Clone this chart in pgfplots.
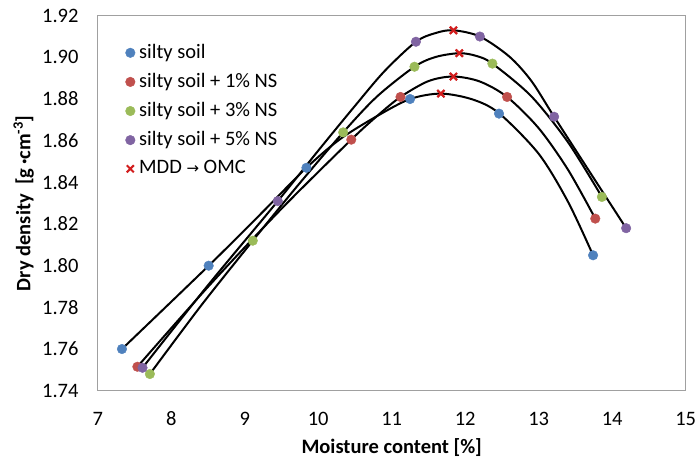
\documentclass[border=0pt]{standalone}
\usepackage{fontspec}
\setmainfont{Carlito}
\newfontfamily\djv{DejaVu Sans}
\usepackage{pgfplots}
\pgfplotsset{compat=1.18}
\definecolor{cblue}{RGB}{79,129,189}
\definecolor{cred}{RGB}{192,80,77}
\definecolor{cgreen}{RGB}{155,187,89}
\definecolor{cpurple}{RGB}{128,100,162}
\definecolor{cx}{RGB}{210,30,30}
\definecolor{frame}{RGB}{160,160,160}
\begin{document}
\fontsize{20.5}{24}\selectfont
\begin{tikzpicture}
\begin{axis}[
  scale only axis,
  width=588pt, height=375pt,
  xmin=7, xmax=15, ymin=1.74, ymax=1.92,
  xtick={7,8,...,15},
  ytick={1.74,1.76,1.78,1.80,1.82,1.84,1.86,1.88,1.90,1.92},
  /pgf/number format/assume math mode=true,
  yticklabel style={/pgf/number format/fixed, /pgf/number format/precision=2, /pgf/number format/fixed zerofill, inner sep=0pt, anchor=east, xshift=-19pt},
  xticklabel style={inner sep=0pt, anchor=north, yshift=-21pt},
  major tick length=0pt,
  axis line style={frame, line width=0.9pt},
  every tick label/.append style={font=\fontsize{20.5}{24}\selectfont},
  xlabel={\bfseries Moisture content [\%]},
  ylabel={\bfseries Dry density\ \ [g\,·cm\textsuperscript{-3}]},
  xlabel style={font=\fontsize{20.5}{24}\selectfont, at={(axis description cs:0.5,0)}, anchor=center, yshift=-57pt},
  ylabel style={font=\fontsize{20.5}{24}\selectfont, at={(axis description cs:0,0.5)}, anchor=center, xshift=0pt, yshift=74pt},
  legend style={draw=none, fill=none, at={(axis description cs:0.047,0.93)}, anchor=north west, font=\fontsize{20.5}{24}\selectfont, row sep=7.8pt, inner sep=0pt, nodes={inner xsep=4pt}},
  legend cell align=left,
  clip=false,
]
\addplot[only marks, mark=*, mark size=4.8pt, color=cblue, mark options={draw=cblue, fill=cblue}] coordinates {
(7.33,1.760) (8.51,1.800) (9.84,1.847) (11.25,1.880) (12.46,1.873) (13.74,1.805)};
\addlegendentry{silty soil}
\addplot[only marks, mark=*, mark size=4.8pt, color=cred, mark options={draw=cred, fill=cred}] coordinates {
(7.54,1.7515) (10.45,1.8605) (11.12,1.881) (12.57,1.881) (13.77,1.8226)};
\addlegendentry{silty soil + 1\% NS}
\addplot[only marks, mark=*, mark size=4.8pt, color=cgreen, mark options={draw=cgreen, fill=cgreen}] coordinates {
(7.71,1.748) (9.11,1.812) (10.34,1.864) (11.31,1.8955) (12.37,1.897) (13.86,1.833)};
\addlegendentry{silty soil + 3\% NS}
\addplot[only marks, mark=*, mark size=4.8pt, color=cpurple, mark options={draw=cpurple, fill=cpurple}] coordinates {
(7.61,1.751) (9.45,1.831) (11.33,1.9075) (12.20,1.910) (13.21,1.8715) (14.19,1.818)};
\addlegendentry{silty soil + 5\% NS}
\addplot[only marks, mark=x, mark size=5pt, color=cx, mark options={line width=2pt}] coordinates {
(11.67,1.8826) (11.84,1.8908) (11.92,1.902) (11.84,1.913)};
\addlegendentry{MDD {\djv\fontsize{15}{16}\selectfont →} OMC}
% curves
\addplot[forget plot, smooth, black, line width=2pt, no marks] coordinates {
(7.33,1.760) (8.51,1.800) (9.2,1.8242) (9.84,1.847) (10.3,1.8608) (10.8,1.8718) (11.25,1.880) (11.67,1.8826) (12.1,1.8798) (12.46,1.8732) (13.0,1.8537) (13.4,1.8306) (13.74,1.805)};
\addplot[forget plot, smooth, black, line width=2pt, no marks] coordinates {
(7.54,1.7515) (8.5,1.7898) (9.5,1.8273) (10.45,1.8605) (10.8,1.8718) (11.12,1.881) (11.5,1.8886) (11.84,1.8908) (12.2,1.8884) (12.57,1.881) (13.0,1.866) (13.4,1.846) (13.77,1.8226)};
\addplot[forget plot, smooth, black, line width=2pt, no marks] coordinates {
(7.71,1.748) (8.41,1.781) (9.11,1.812) (9.72,1.8384) (10.34,1.864) (10.8,1.8812) (11.31,1.8955) (11.6,1.9002) (11.92,1.902) (12.15,1.9007) (12.37,1.897) (12.9,1.8813) (13.4,1.8592) (13.86,1.833)};
\addplot[forget plot, smooth, black, line width=2pt, no marks] coordinates {
(7.61,1.751) (8.5,1.7906) (9.45,1.831) (10.0,1.8552) (10.5,1.8767) (10.9,1.8933) (11.33,1.9075) (11.6,1.9117) (11.84,1.913) (12.2,1.910) (12.6,1.9004) (12.9,1.8887) (13.21,1.8715) (13.7,1.8447) (14.19,1.818)};
\addplot[forget plot, only marks, mark=x, mark size=5pt, color=cx, mark options={line width=2pt}] coordinates {
(11.67,1.8826) (11.84,1.8908) (11.92,1.902) (11.84,1.913)};
\end{axis}
\path (-97.7pt,-68.3pt) rectangle (599.3pt,390.7pt);
\end{tikzpicture}
\end{document}
